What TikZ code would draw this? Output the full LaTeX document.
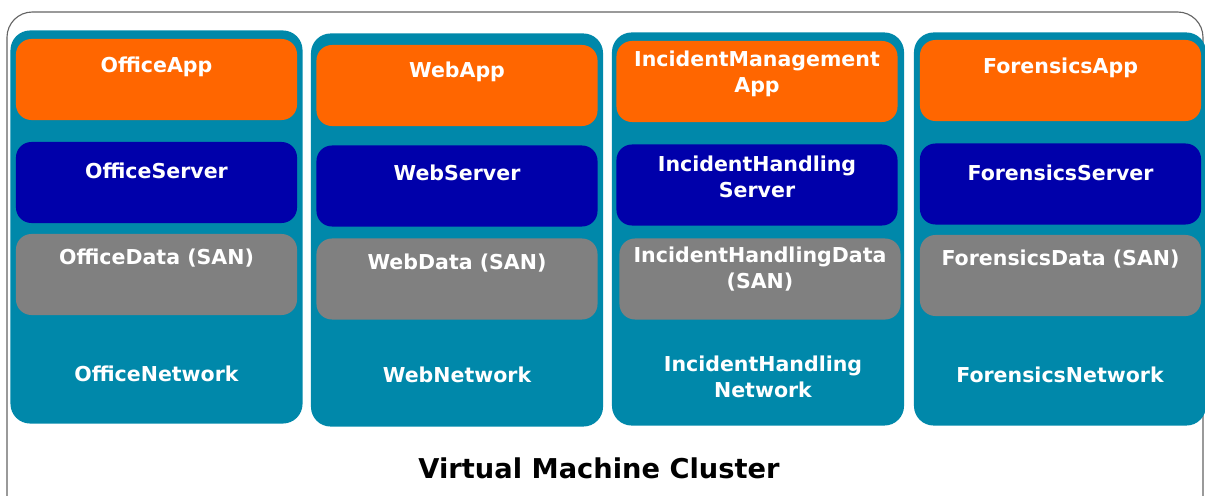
\documentclass[tikz,border=0pt]{standalone}
\usepackage{fontspec}
\setmainfont{DejaVu Sans}
\definecolor{colteal}{RGB}{0,136,170}
\definecolor{apporange}{RGB}{255,102,0}
\definecolor{srvblue}{RGB}{0,0,170}
\definecolor{datagray}{RGB}{128,128,128}
\definecolor{framegray}{RGB}{100,100,100}
\tikzset{
    colbox/.style={fill=colteal, draw=none, rectangle, rounded corners=14pt, minimum width=7.3cm, minimum height=9.825cm, inner sep=0pt},
    layer/.style={draw=none, rectangle, rounded corners=11pt, minimum width=7.025cm, minimum height=2.025cm, inner sep=0pt},
    txt/.style={text=white, align=center, font=\fontsize{14.6}{18.3}\selectfont\bfseries, inner sep=0pt}
}
\begin{document}
\begin{tikzpicture}[x=0.025cm, y=-0.025cm]
        \useasboundingbox (0,0) rectangle (1205,495);
        \draw[framegray, line width=0.8pt, rounded corners=18pt] (7,520) -- (7,12) -- (1203,12) -- (1203,520);
        \begin{scope}
            \node[colbox] (offcol) at (156.5,227) {};
            \node[colbox] (webcol) at (457,230) {};
            \node[colbox] (inccol) at (758,229) {};
            \node[colbox] (forcol) at (1060,229) {};
        \end{scope}
        \begin{scope}
            \tikzstyle{every node}=[layer, fill=apporange]
            \node (offapp) at (156.5,79.5) {};
            \node (webapp) at (457,85.5) {};
            \node (incapp) at (757,81.5) {};
            \node (forapp) at (1060.5,80.5) {};
        \end{scope}
        \begin{scope}
            \tikzstyle{every node}=[layer, fill=srvblue]
            \node (offsrv) at (156.5,182.5) {};
            \node (websrv) at (457,186) {};
            \node (incsrv) at (757,185) {};
            \node (forsrv) at (1060.5,184) {};
        \end{scope}
        \begin{scope}
            \tikzstyle{every node}=[layer, fill=datagray]
            \node (offdata) at (156.5,274.5) {};
            \node (webdata) at (457,279) {};
            \node (incdata) at (760,279) {};
            \node (fordata) at (1060.5,275.5) {};
        \end{scope}
        \begin{scope}
            \tikzstyle{every node}=[txt]
            \node (offapptxt) at (156.5,67) {OfficeApp};
            \node (webapptxt) at (457,72) {WebApp};
            \node (incapptxt) at (757,74) {IncidentManagement\\App};
            \node (forapptxt) at (1060.5,68) {ForensicsApp};
            \node (offsrvtxt) at (156.5,171) {OfficeServer};
            \node (websrvtxt) at (457,173) {WebServer};
            \node (incsrvtxt) at (757,177) {IncidentHandling\\Server};
            \node (forsrvtxt) at (1060.5,173) {ForensicsServer};
            \node (offdatatxt) at (156.5,258) {OfficeData (SAN)};
            \node (webdatatxt) at (457,263) {WebData (SAN)};
            \node (incdatatxt) at (760,269) {IncidentHandlingData\\(SAN)};
            \node (fordatatxt) at (1060.5,259) {ForensicsData (SAN)};
            \node (offnettxt) at (156.5,374) {OfficeNetwork};
            \node (webnettxt) at (457,375) {WebNetwork};
            \node (incnettxt) at (763,376.5) {IncidentHandling\\Network};
            \node (fornettxt) at (1060,375) {ForensicsNetwork};
        \end{scope}
        \node[font=\fontsize{19.4}{23}\selectfont\bfseries, inner sep=0pt] (title) at (599,468) {Virtual Machine Cluster};
    \end{tikzpicture}
\end{document}
